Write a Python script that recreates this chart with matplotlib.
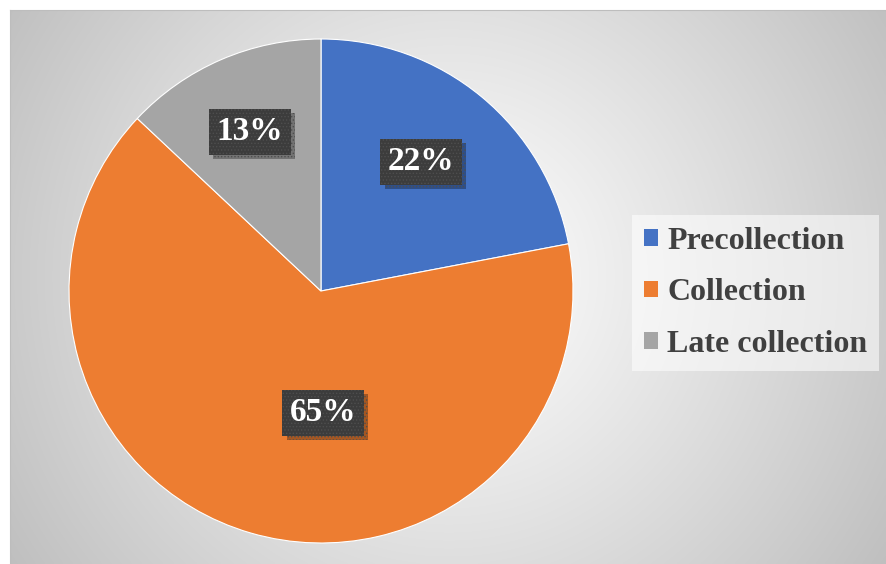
import numpy as np
import matplotlib.pyplot as plt
import matplotlib.patheffects as pe
from matplotlib.patches import Patch

# data
categories = ['Precollection', 'Collection', 'Late collection']
shares = [22, 65, 13]
colors = ['#4472C4', '#ED7D31', '#A5A5A5']
# where Excel put the data labels (pie radius = 1)
label_pos = [(0.397, 0.512), (0.008, -0.484), (-0.282, 0.631)]

plt.rcParams['font.family'] = ['Liberation Serif', 'DejaVu Serif']
plt.rcParams['hatch.linewidth'] = 0.6

W, H = 886, 564
fig = plt.figure(figsize=(W / 100, H / 100), dpi=100, facecolor='white')

# chart area with radial gradient background
bg = fig.add_axes([10 / W, 0, (W - 10) / W, (H - 10) / H])
ny, nx = 277, 438
yy, xx = np.mgrid[0:ny, 0:nx]
cx, cy = nx * 0.5, ny * 0.48
r = np.hypot((xx - cx) / nx, (yy - cy) / ny * (ny / nx))
r = r / r.max()
shade = 1.0 - 0.25 * np.clip(r, 0, 1) ** 1.1
bg.imshow(np.dstack([shade] * 3), aspect='auto', interpolation='bilinear',
          extent=(0, 1, 0, 1))
bg.set_xlim(0, 1)
bg.set_ylim(0, 1)
bg.set_xticks([])
bg.set_yticks([])
for s in bg.spines.values():
    s.set_visible(False)
bg.spines['left'].set_visible(True)
bg.spines['top'].set_visible(True)
bg.spines['left'].set_color('#BDBDBD')
bg.spines['top'].set_color('#BDBDBD')

# pie
pcx, pcy, R = 321, H - 291, 252
ax = fig.add_axes([(pcx - R) / W, (pcy - R) / H, 2 * R / W, 2 * R / H])
wedges, _ = ax.pie(shares, colors=colors, startangle=90, counterclock=False,
                   radius=1, wedgeprops=dict(edgecolor='white', linewidth=0.8))
ax.set_xlim(-1, 1)
ax.set_ylim(-1, 1)
ax.set_aspect('equal')
ax.axis('off')

for val, (x, y) in zip(shares, label_pos):
    t = ax.text(x, y, f'{val}%', ha='center', va='center', fontsize=24,
                fontweight='bold', color='white',
                bbox=dict(boxstyle='square,pad=0.22', facecolor='#3C3C3C',
                          edgecolor='#4E4E4E', linewidth=0, hatch='.....'))
    t.get_bbox_patch().set_path_effects(
        [pe.SimplePatchShadow(offset=(3, -3), shadow_rgbFace='black', alpha=0.3),
         pe.Normal()])

handles = [Patch(facecolor=c, edgecolor='none') for c in colors]
leg = fig.legend(handles, categories, loc='upper left',
                 bbox_to_anchor=(632 / W, 1 - 215 / H), frameon=True,
                 prop=dict(family='Liberation Serif', weight='bold', size=23),
                 handlelength=0.42, handleheight=0.42, handletextpad=0.3,
                 labelspacing=0.7, borderpad=0.38, borderaxespad=0)
leg.get_frame().set_facecolor('white')
leg.get_frame().set_alpha(0.55)
leg.get_frame().set_edgecolor('none')
leg.get_frame().set_boxstyle('square', pad=0)
for t in leg.get_texts():
    t.set_color('#404040')

fig.savefig('out.png', dpi=100, facecolor='white')
